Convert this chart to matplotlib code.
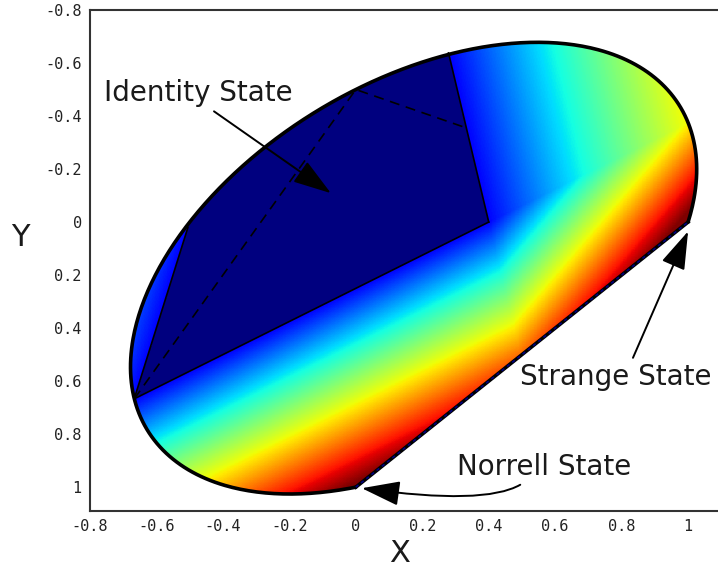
import numpy as np
import matplotlib.pyplot as plt
from matplotlib.path import Path
from matplotlib.patches import PathPatch

# outer boundary: conic  a(x^2+y^2) + b*xy + d(x+y) = 1, cut off by the line x + y = 1
conic_a, conic_b, conic_d = 2.0, 1.75, -1.0

# corner points (data units)
P = (-0.667, 0.667)    # left corner of the positive region
Q = (0.40, 0.0)        # inner corner
R = (0.279, -0.638)    # top end of the Q-R facet
S = (-0.505, 0.019)    # top end of the left facet
T = (0.0, -0.5)        # dashed polygon corner
U = (0.333, -0.355)    # dashed polygon end
strange = (1.0, 0.0)
norrell = (0.0, 1.0)
inside = (-0.1, -0.1)

# facets of the navy region and how fast the colour rises across each
facets = [(P, Q, 1.12), (Q, R, 1.22), (S, P, 1.5)]
colour_floor = 0.125   # colour just outside the navy region

xticks = [-0.8, -0.6, -0.4, -0.2, 0, 0.2, 0.4, 0.6, 0.8, 1]
xlabels = ['-0.8', '-0.6', '-0.4', '-0.2', '0', '0.2', '0.4', '0.6', '0.8', '1']
yticks = [-0.8, -0.6, -0.4, -0.2, 0, 0.2, 0.4, 0.6, 0.8, 1]
ylabels = ['-0.8', '-0.6', '-0.4', '-0.2', '0', '0.2', '0.4', '0.6', '0.8', '1']

# colour field
xs = np.linspace(-0.8, 1.1, 800)
X, Y = np.meshgrid(xs, xs)
neg = np.zeros_like(X)
for a, b, g in facets:
    nx, ny = b[1] - a[1], -(b[0] - a[0])
    s = nx * (X - a[0]) + ny * (Y - a[1])
    if nx * (inside[0] - a[0]) + ny * (inside[1] - a[1]) > 0:
        s = -s
    neg += g * np.clip(s, 0, None)
Z = np.where(neg > 0, colour_floor + neg, 0.0)

# boundary: ellipse arc in rotated coords u=(x+y)/sqrt2, v=(x-y)/sqrt2
ku = conic_a + conic_b / 2
kv = conic_a - conic_b / 2
u0 = -conic_d * np.sqrt(2) / (2 * ku)
rhs = 1 + ku * u0 ** 2
A, B = np.sqrt(rhs / ku), np.sqrt(rhs / kv)
t1 = np.arccos((1 / np.sqrt(2) - u0) / A)
t = np.linspace(t1, 2 * np.pi - t1, 400)
u = u0 + A * np.cos(t)
v = B * np.sin(t)
ex = (u + v) / np.sqrt(2)
ey = (u - v) / np.sqrt(2)

fig = plt.figure(figsize=(7.18, 5.71), dpi=100)
ax = fig.add_axes([90 / 718, 60 / 571, 628 / 718, 501 / 571])

verts = np.column_stack([np.r_[ex, ex[0]], np.r_[ey, ey[0]]])
region = PathPatch(Path(verts, closed=True), facecolor='none', edgecolor='none')
ax.add_patch(region)
ax.imshow(Z, extent=(-0.8, 1.1, -0.8, 1.1), origin='lower', cmap='jet',
          vmin=0, vmax=1.0, interpolation='nearest', aspect='auto',
          clip_path=region, zorder=1)

# interior facets
for a, b, g in facets:
    ax.plot([a[0], b[0]], [a[1], b[1]], color='black', lw=1.2, zorder=3)
ax.plot([P[0], T[0], U[0]], [P[1], T[1], U[1]], color='black', lw=1.2,
        dashes=(6, 4), zorder=3)

# outline
ax.plot(ex, ey, color='black', lw=2.6, zorder=4, solid_capstyle='round')
ax.plot([norrell[0], strange[0]], [norrell[1], strange[1]], color='black', lw=2.6, zorder=4)
ax.plot([norrell[0], strange[0]], [norrell[1], strange[1]], color='#000080', lw=1.2,
        dashes=(2, 2), zorder=5)

txt = '#1a1a1a'
head = '-|>,head_length=1.7,head_width=0.55'
ax.annotate('Identity State', xy=(-0.075, -0.109), xytext=(-0.474, -0.487),
            ha='center', va='center', fontsize=20, color=txt, zorder=6,
            arrowprops=dict(arrowstyle=head, color='black', lw=1.4, mutation_scale=14,
                            relpos=(0.55, 0.0), shrinkA=2, shrinkB=0))
ax.annotate('Strange State', xy=(1.0, 0.035), xytext=(0.781, 0.585),
            ha='center', va='center', fontsize=20, color=txt, zorder=6,
            arrowprops=dict(arrowstyle=head, color='black', lw=1.4, mutation_scale=14,
                            relpos=(0.58, 1.0), shrinkA=2, shrinkB=0))
ax.annotate('Norrell State', xy=(0.018, 1.004), xytext=(0.568, 0.925),
            ha='center', va='center', fontsize=20, color=txt, zorder=6,
            arrowprops=dict(arrowstyle=head, color='black', lw=1.4, mutation_scale=14,
                            relpos=(0.39, 0.0), shrinkA=1, shrinkB=0,
                            connectionstyle='angle3,angleA=39,angleB=-8'))

ax.set_xlim(-0.8, 1.09)
ax.set_ylim(1.09, -0.8)
ax.set_xticks(xticks)
ax.set_xticklabels(xlabels, family='DejaVu Sans Mono', fontsize=11, color='#222222')
ax.set_yticks(yticks)
ax.set_yticklabels(ylabels, family='DejaVu Sans Mono', fontsize=11, color='#222222')
ax.tick_params(length=0, pad=6)
ax.spines['right'].set_visible(False)
for sp in ['left', 'bottom', 'top']:
    ax.spines[sp].set_linewidth(1.5)
    ax.spines[sp].set_color('#333333')

fig.text(400 / 718, 1 - 553 / 571, 'X', fontsize=22, ha='center', va='center', color=txt)
fig.text(20 / 718, 1 - 237 / 571, 'Y', fontsize=22, ha='center', va='center', color=txt)

fig.savefig('out.png', dpi=100)
